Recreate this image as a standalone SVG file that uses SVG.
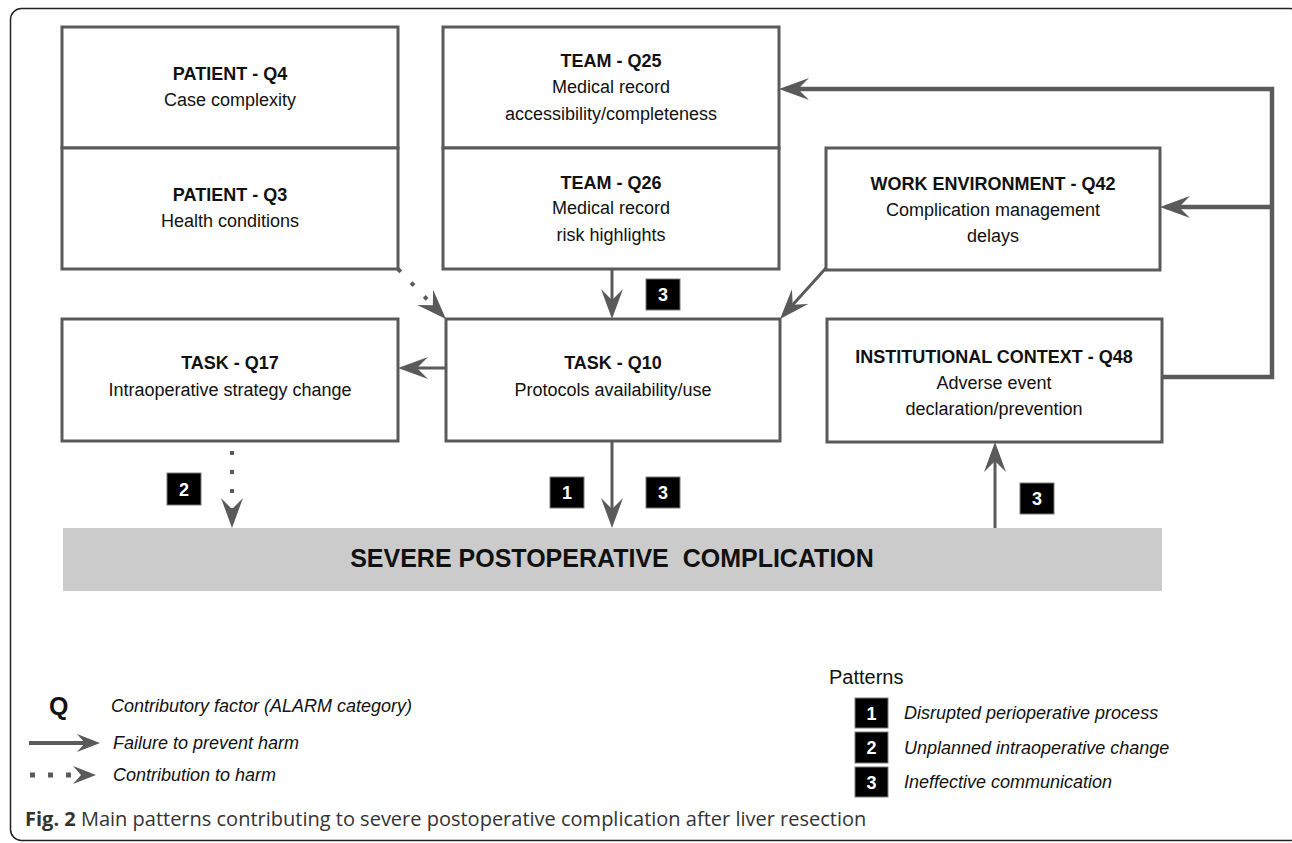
<svg xmlns="http://www.w3.org/2000/svg" width="1292" height="843" viewBox="0 0 1292 843">
<style>
.box{fill:#fff;stroke:#5a5a5a;stroke-width:3}
.t{font-family:"Liberation Sans",Arial,sans-serif;font-size:18px;fill:#111;text-anchor:middle}
.b{font-weight:bold}
.con{fill:none;stroke:#5a5a5a;stroke-width:3}
.dot{fill:none;stroke:#5a5a5a;stroke-width:4;stroke-dasharray:4 15}
.badge{fill:#000;stroke:#7a7a7a;stroke-width:1}
.bt{font-family:"Liberation Sans",Arial,sans-serif;font-size:18px;font-weight:bold;fill:#fff;text-anchor:middle}
.lg{font-family:"Liberation Sans",Arial,sans-serif;font-size:18px;font-style:italic;fill:#111}
</style>
<defs>
<marker id="ah" viewBox="-32 -12 34 24" refX="-6" refY="0" markerWidth="34" markerHeight="24" markerUnits="userSpaceOnUse" orient="auto">
<path d="M0,0 L-30,-11 L-19,0 L-30,11 Z" fill="#5a5a5a"/>
</marker>
<marker id="ahs" viewBox="-26 -11 28 22" refX="-6" refY="0" markerWidth="28" markerHeight="22" markerUnits="userSpaceOnUse" orient="auto">
<path d="M0,0 L-23,-9 L-15,0 L-23,9 Z" fill="#5a5a5a"/>
</marker>
</defs>

<rect x="10.5" y="8.5" width="1290" height="832" rx="11" fill="#fff" stroke="#222" stroke-width="1.5"/>

<g id="outcome">
<rect x="63" y="528" width="1099" height="63" fill="#cbcbcb"/>
<text class="t b" x="612" y="567" style="font-size:25px;white-space:pre">SEVERE POSTOPERATIVE  COMPLICATION</text>
</g>

<g id="patient-q4">
<rect class="box" x="62" y="27" width="336" height="121"/>
<text class="t b" x="230" y="80">PATIENT - Q4</text>
<text class="t" x="230" y="106">Case complexity</text>
</g>
<g id="patient-q3">
<rect class="box" x="62" y="148" width="336" height="121"/>
<text class="t b" x="230" y="201">PATIENT - Q3</text>
<text class="t" x="230" y="227">Health conditions</text>
</g>
<g id="team-q25">
<rect class="box" x="443" y="27" width="336" height="121"/>
<text class="t b" x="611" y="67">TEAM - Q25</text>
<text class="t" x="611" y="93">Medical record</text>
<text class="t" x="611" y="120">accessibility/completeness</text>
</g>
<g id="team-q26">
<rect class="box" x="443" y="148" width="336" height="121"/>
<text class="t b" x="611" y="189">TEAM - Q26</text>
<text class="t" x="611" y="214">Medical record</text>
<text class="t" x="611" y="241">risk highlights</text>
</g>
<g id="work-environment-q42">
<rect class="box" x="826" y="148" width="334" height="122"/>
<text class="t b" x="993" y="190">WORK ENVIRONMENT - Q42</text>
<text class="t" x="993" y="216">Complication management</text>
<text class="t" x="993" y="242">delays</text>
</g>
<g id="task-q17">
<rect class="box" x="62" y="319" width="336" height="122"/>
<text class="t b" x="230" y="369">TASK - Q17</text>
<text class="t" x="230" y="396">Intraoperative strategy change</text>
</g>
<g id="task-q10">
<rect class="box" x="446" y="319" width="334" height="122"/>
<text class="t b" x="613" y="369">TASK - Q10</text>
<text class="t" x="613" y="396">Protocols availability/use</text>
</g>
<g id="institutional-q48">
<rect class="box" x="827" y="319" width="335" height="123"/>
<text class="t b" x="994" y="363">INSTITUTIONAL CONTEXT - Q48</text>
<text class="t" x="994" y="389">Adverse event</text>
<text class="t" x="994" y="415">declaration/prevention</text>
</g>

<g id="connectors">
<path class="con" d="M612,269 V313" marker-end="url(#ah)"/>
<path class="con" d="M826,268 L784,314.5" marker-end="url(#ah)"/>
<path class="dot" d="M398,269 L441.8,314.7" marker-end="url(#ah)"/>
<path class="con" d="M446,368 H404" marker-end="url(#ah)"/>
<path class="dot" d="M232,451 V522" marker-end="url(#ah)"/>
<path class="con" d="M612,441 V522" marker-end="url(#ah)"/>
<path class="con" d="M995,528 V448" marker-end="url(#ah)"/>
<path class="con" style="stroke-width:4.5" d="M1162,377 H1272 V89 H785" marker-end="url(#ah)"/>
<path class="con" style="stroke-width:4.5" d="M1272,207 H1166" marker-end="url(#ah)"/>
</g>

<g id="badges">
<rect class="badge" x="646" y="279" width="34" height="31"/><text class="bt" x="663" y="301">3</text>
<rect class="badge" x="167" y="473" width="34" height="32"/><text class="bt" x="184" y="496">2</text>
<rect class="badge" x="550" y="477" width="34" height="31"/><text class="bt" x="567" y="499">1</text>
<rect class="badge" x="646" y="477" width="34" height="31"/><text class="bt" x="663" y="499">3</text>
<rect class="badge" x="1020" y="483" width="34" height="31"/><text class="bt" x="1037" y="505">3</text>
</g>

<g id="legend">
<text x="49" y="715" style="font-family:'Liberation Sans',Arial,sans-serif;font-size:25px;font-weight:bold;fill:#111">Q</text>
<text class="lg" x="111" y="712">Contributory factor (ALARM category)</text>
<path class="con" style="stroke-width:4" d="M29,743 H94" marker-end="url(#ahs)"/>
<text class="lg" x="113" y="749">Failure to prevent harm</text>
<path fill="none" stroke="#5a5a5a" stroke-width="5" stroke-dasharray="5 13" d="M30,775 H90" marker-end="url(#ahs)"/>
<text class="lg" x="113" y="781">Contribution to harm</text>

<text x="829" y="684" style="font-family:'Liberation Sans',Arial,sans-serif;font-size:20px;fill:#111">Patterns</text>
<rect class="badge" x="855" y="698" width="33" height="30"/><text class="bt" x="871.5" y="720">1</text>
<rect class="badge" x="855" y="732" width="33" height="31"/><text class="bt" x="871.5" y="754">2</text>
<rect class="badge" x="855" y="767" width="33" height="30"/><text class="bt" x="871.5" y="789">3</text>
<text class="lg" x="904" y="719">Disrupted perioperative process</text>
<text class="lg" x="904" y="754">Unplanned intraoperative change</text>
<text class="lg" x="904" y="788">Ineffective communication</text>
</g>

<text x="25" y="826" style="font-family:'Open Sans','Noto Sans',sans-serif;font-size:20px;fill:#333"><tspan font-weight="bold">Fig. 2</tspan> Main patterns contributing to severe postoperative complication after liver resection</text>
</svg>
